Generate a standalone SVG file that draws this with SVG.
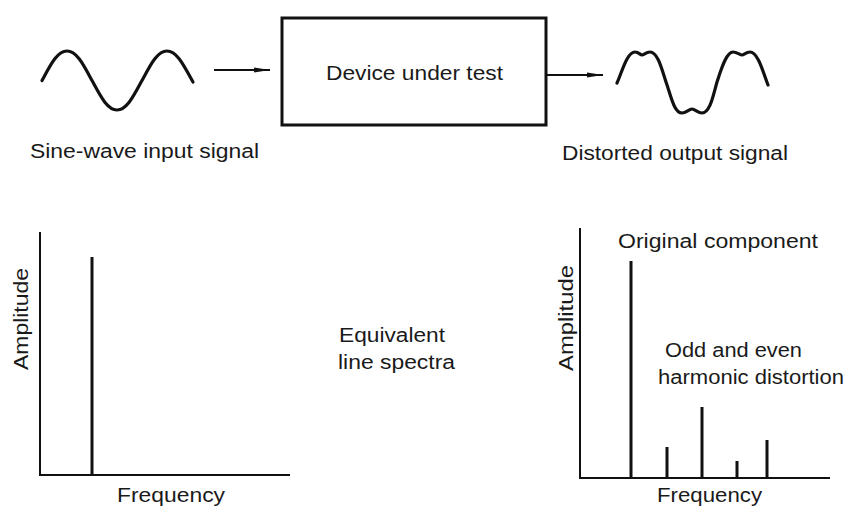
<svg xmlns="http://www.w3.org/2000/svg" width="856" height="515" viewBox="0 0 856 515">
  <style>
    .wave { fill: none; stroke: #111; stroke-width: 3.2; stroke-linecap: round; stroke-linejoin: round; }
    .axis { fill: none; stroke: #111; stroke-width: 2; }
    .line { fill: none; stroke: #111; stroke-width: 3; }
    .box { fill: #fff; stroke: #111; stroke-width: 3; }
    .conn { fill: none; stroke: #111; stroke-width: 1.8; }
    text { font-family: "Liberation Sans", Arial, Helvetica, sans-serif; font-size: 20px; fill: #1a1a1a; }
  </style>
  <defs>
    <marker id="arrow" viewBox="0 0 16 6" refX="16" refY="3" markerWidth="16" markerHeight="6" markerUnits="userSpaceOnUse" orient="auto">
      <path d="M0,0.6 L16,3 L0,5.4 Z" fill="#111"/>
    </marker>
  </defs>

  <!-- Clean sine-wave input -->
  <g id="input-signal">
    <path class="wave" d="M42,80.5 C50.2,65.4 57,51 67,51 C77,51 83.8,65.4 92,80.5 C100.2,95.6 107,110 117,110 C127,110 133.8,95.6 142,80.5 C150.2,65.4 157,51 167,51 C177,51 183.8,65.4 193,82"/>
    <text x="30" y="158" textLength="229" lengthAdjust="spacingAndGlyphs">Sine-wave input signal</text>
  </g>

  <!-- Device block -->
  <g id="dut">
    <rect class="box" x="282" y="18" width="264" height="107"/>
    <text x="326" y="80" textLength="177" lengthAdjust="spacingAndGlyphs">Device under test</text>
  </g>

  <!-- Distorted output with flattened, dimpled crests -->
  <g id="output-signal">
    <path class="wave" d="M617,83 C622,72 627,52 635,52 C639,52 640,55 642,55 C644,55 646,52 650,52 C658,52 662,70 666,82 C671,96 674,113 682,113 C686,113 689,109 692,109 C695,109 698,113 702,113 C710,113 713,96 717,82 C721,70 726,52 733,52 C737,52 740,55 742,55 C744,55 746,52 750,52 C758,52 763,72 768,85"/>
    <text x="562" y="160" textLength="226" lengthAdjust="spacingAndGlyphs">Distorted output signal</text>
  </g>

  <!-- Input spectrum: single line -->
  <g id="input-spectrum">
    <path class="axis" d="M40,232 V475 H290"/>
    <path class="line" d="M92,257 V475"/>
    <text transform="translate(28,370) rotate(-90)" x="0" y="0" textLength="102" lengthAdjust="spacingAndGlyphs">Amplitude</text>
    <text x="117" y="502" textLength="108" lengthAdjust="spacingAndGlyphs">Frequency</text>
  </g>

  <g id="spectra-label">
    <text x="339" y="342" textLength="106" lengthAdjust="spacingAndGlyphs">Equivalent</text>
    <text x="338" y="369" textLength="117" lengthAdjust="spacingAndGlyphs">line spectra</text>
  </g>

  <!-- Output spectrum: fundamental plus harmonics -->
  <g id="output-spectrum">
    <path class="axis" d="M580,228 V478 H830"/>
    <path class="line" d="M631,261 V478"/>
    <path class="line" d="M667,447 V478"/>
    <path class="line" d="M702,407 V478"/>
    <path class="line" d="M737,461 V478"/>
    <path class="line" d="M767,440 V478"/>
    <text x="618" y="248" textLength="200" lengthAdjust="spacingAndGlyphs">Original component</text>
    <text transform="translate(573,371) rotate(-90)" x="0" y="0" textLength="106" lengthAdjust="spacingAndGlyphs">Amplitude</text>
    <text x="665" y="357" textLength="137" lengthAdjust="spacingAndGlyphs">Odd and even</text>
    <text x="658" y="384" textLength="186" lengthAdjust="spacingAndGlyphs">harmonic distortion</text>
    <text x="657" y="502" textLength="105" lengthAdjust="spacingAndGlyphs">Frequency</text>
  </g>

  <g id="connectors">
    <path class="conn" d="M214,70 H270" marker-end="url(#arrow)"/>
    <path class="conn" d="M547,75 H603" marker-end="url(#arrow)"/>
  </g>
</svg>
